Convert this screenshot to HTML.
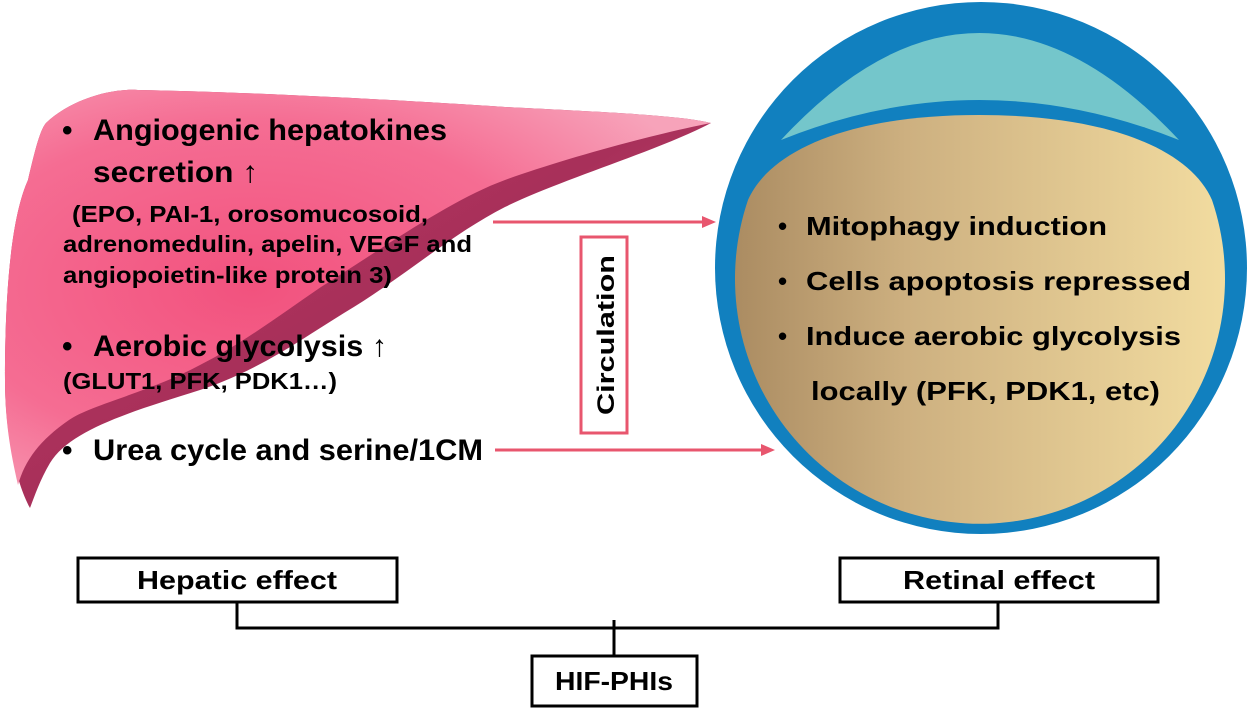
<!DOCTYPE html>
<html><head><meta charset="utf-8"><style>
html,body{margin:0;padding:0;background:#fff;width:1250px;height:712px;overflow:hidden}
svg{display:block}
text{font-family:"Liberation Sans",Arial,sans-serif;font-weight:bold;fill:#000}
</style></head><body>
<svg width="1250" height="712" viewBox="0 0 1250 712" xmlns="http://www.w3.org/2000/svg">
<defs>
<linearGradient id="tan" x1="0" y1="0" x2="1" y2="0">
<stop offset="0" stop-color="#ab8c62"/><stop offset="0.35" stop-color="#cdb080"/><stop offset="1" stop-color="#f2dca0"/>
</linearGradient>
<radialGradient id="pink" cx="0.35" cy="0.5" r="0.7">
<stop offset="0" stop-color="#f2527e"/><stop offset="0.6" stop-color="#f56d93"/><stop offset="1" stop-color="#f7a3ba"/>
</radialGradient>
<linearGradient id="dark" x1="0" y1="0" x2="1" y2="1">
<stop offset="0" stop-color="#c03a64"/><stop offset="0.5" stop-color="#a8305a"/><stop offset="1" stop-color="#d0507a"/>
</linearGradient>
</defs>

<!-- liver -->
<path d="M711,123 C660,150 560,180 505,207 C450,235 400,280 344,313 C300,340 260,370 200,390 C130,412 70,430 50,463 C40,480 35,495 30,508 C15,480 5,430 5,380 C5,300 10,220 28,180 C35,150 40,130 46,123 C70,100 110,88 138,90 C250,92 400,100 505,107 C600,112 680,115 711,123 Z" fill="url(#dark)"/>
<path d="M711,123 C650,135 560,160 505,180 C450,200 380,250 321,287 C280,315 240,345 200,365 C150,392 90,405 69,420 C40,440 25,460 18,485 C10,450 5,420 5,380 C5,300 10,220 28,180 C35,150 40,130 46,123 C70,100 110,88 138,90 C250,92 400,100 505,107 C600,112 680,115 711,123 Z" fill="url(#pink)"/>

<!-- circle -->
<circle cx="981" cy="268" r="266" fill="#1180bf"/>
<path d="M781,140 Q979,-74 1179,140 Q979,60 781,140 Z" fill="#74c6cb"/>
<path d="M748,200 C770,150 850,115 979,115 C1110,115 1190,150 1212,200 A245,245 0 1 1 748,200 Z" fill="url(#tan)"/>

<!-- arrows -->
<g stroke="#e8566e" stroke-width="3" fill="#e8566e">
<line x1="493" y1="222" x2="705" y2="222"/>
<polygon points="716,222 702,216 702,228" stroke="none"/>
<line x1="495" y1="450" x2="763" y2="450"/>
<polygon points="775,450 761,444 761,456" stroke="none"/>
</g>
<rect x="581" y="237" width="46" height="196" fill="#fff" stroke="#e8566e" stroke-width="3"/>
<text transform="translate(614,335) rotate(-90)" font-size="24" text-anchor="middle" textLength="160" lengthAdjust="spacingAndGlyphs">Circulation</text>

<!-- liver text -->
<g font-size="30">
<text x="62" y="140">•</text>
<text x="93" y="140" textLength="354" lengthAdjust="spacingAndGlyphs">Angiogenic hepatokines</text>
<text x="93" y="182" textLength="165" lengthAdjust="spacingAndGlyphs">secretion ↑</text>
<text x="62" y="356">•</text>
<text x="93" y="356" textLength="294" lengthAdjust="spacingAndGlyphs">Aerobic glycolysis ↑</text>
<text x="62" y="460">•</text>
<text x="93" y="460" textLength="390" lengthAdjust="spacingAndGlyphs">Urea cycle and serine/1CM</text>
</g>
<g font-size="23">
<text x="72" y="222" textLength="356" lengthAdjust="spacingAndGlyphs">(EPO, PAI-1, orosomucosoid,</text>
<text x="63" y="252" textLength="409" lengthAdjust="spacingAndGlyphs">adrenomedulin, apelin, VEGF and</text>
<text x="63" y="283" textLength="329" lengthAdjust="spacingAndGlyphs">angiopoietin-like protein 3)</text>
<text x="63" y="389" textLength="274" lengthAdjust="spacingAndGlyphs">(GLUT1, PFK, PDK1…)</text>
</g>

<!-- circle text -->
<g font-size="26">
<text x="778" y="235">•</text>
<text x="806" y="235" textLength="301" lengthAdjust="spacingAndGlyphs">Mitophagy induction</text>
<text x="778" y="290">•</text>
<text x="806" y="290" textLength="385" lengthAdjust="spacingAndGlyphs">Cells apoptosis repressed</text>
<text x="778" y="345">•</text>
<text x="806" y="345" textLength="375" lengthAdjust="spacingAndGlyphs">Induce aerobic glycolysis</text>
<text x="811" y="400" textLength="349" lengthAdjust="spacingAndGlyphs">locally (PFK, PDK1, etc)</text>
</g>

<!-- bottom boxes -->
<g fill="#fff" stroke="#000" stroke-width="3">
<rect x="78" y="558" width="319" height="44"/>
<rect x="840" y="558" width="318" height="44"/>
<rect x="532" y="656" width="165" height="50"/>
</g>
<polyline points="237,602 237,628 998,628 998,602" fill="none" stroke="#000" stroke-width="3"/>
<line x1="614" y1="620" x2="614" y2="656" stroke="#000" stroke-width="3"/>
<g font-size="26" text-anchor="middle">
<text x="237" y="589" textLength="200" lengthAdjust="spacingAndGlyphs">Hepatic effect</text>
<text x="999" y="589" textLength="192" lengthAdjust="spacingAndGlyphs">Retinal effect</text>
<text x="614" y="690" textLength="118" lengthAdjust="spacingAndGlyphs">HIF-PHIs</text>
</g>
</svg>
</body></html>
